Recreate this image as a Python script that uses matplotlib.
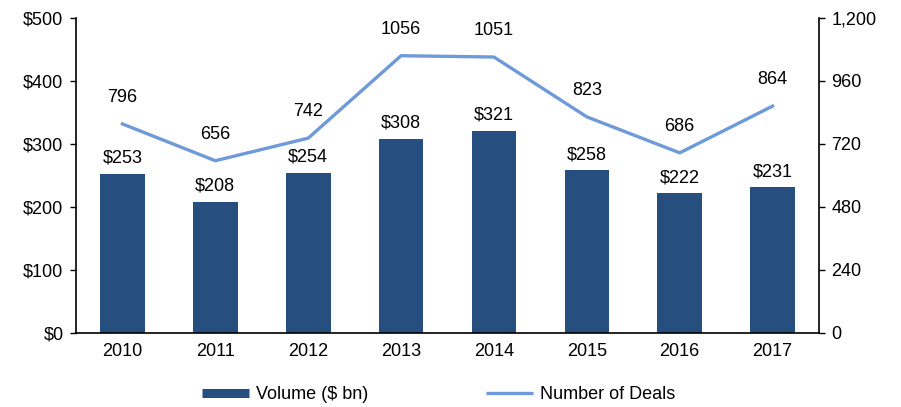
import matplotlib
matplotlib.use("Agg")
from matplotlib import pyplot as plt
from matplotlib.lines import Line2D
from matplotlib.ticker import FuncFormatter

plt.rcParams['font.family'] = ['Liberation Sans', 'DejaVu Sans']

years = ['2010', '2011', '2012', '2013', '2014', '2015', '2016', '2017']
volume = [253, 208, 254, 308, 321, 258, 222, 231]
deals = [796, 656, 742, 1056, 1051, 823, 686, 864]

bar_color = '#264F80'
line_color = '#6F9AD9'
fs = 13

fig = plt.figure(figsize=(9.01, 4.07), dpi=100)
ax = fig.add_axes([0.0844, 0.182, 0.8246, 0.774])
x = range(len(years))

ax.bar(x, volume, width=0.48, color=bar_color, zorder=2)
ax.set_xlim(-0.5, 7.5)
ax.set_ylim(0, 500)
ax.set_yticks([0, 100, 200, 300, 400, 500])
ax.yaxis.set_major_formatter(FuncFormatter(lambda v, p: '${:.0f}'.format(v)))
ax.set_xticks(list(x))
ax.set_xticklabels(years)
ax.tick_params(axis='x', length=0, pad=7, labelsize=fs)
ax.tick_params(axis='y', direction='out', length=4, width=1, labelsize=fs, pad=5)
ax.spines['top'].set_visible(False)
ax.spines['right'].set_visible(False)
for s in ['left', 'bottom']:
    ax.spines[s].set_linewidth(1.2)

for i, v in enumerate(volume):
    ax.annotate('${}'.format(v), (i, v), xytext=(0, 5), textcoords='offset points',
                ha='center', va='bottom', fontsize=fs)

ax2 = ax.twinx()
ax2.plot(x, deals, color=line_color, linewidth=2.4, zorder=3)
ax2.set_ylim(0, 1200)
ax2.set_yticks([0, 240, 480, 720, 960, 1200])
ax2.yaxis.set_major_formatter(FuncFormatter(lambda v, p: '{:,.0f}'.format(v)))
ax2.tick_params(axis='y', direction='out', length=4, width=1, labelsize=fs, pad=5)
ax2.spines['top'].set_visible(False)
ax2.spines['left'].set_visible(False)
ax2.spines['bottom'].set_visible(False)
ax2.spines['right'].set_linewidth(1.2)

for i, v in enumerate(deals):
    ax2.annotate('{}'.format(v), (i, v), xytext=(0, 13), textcoords='offset points',
                 ha='center', va='bottom', fontsize=fs)

handles = [Line2D([0], [0], color=bar_color, linewidth=6.5, solid_capstyle='butt'),
           Line2D([0], [0], color=line_color, linewidth=2.4, solid_capstyle='butt')]
fig.legend(handles, ['Volume ($ bn)', 'Number of Deals'], loc='lower center',
           bbox_to_anchor=(0.487, -0.03), ncol=2, frameon=False, fontsize=fs,
           handlelength=2.6, handletextpad=0.4, columnspacing=6.5)

fig.savefig('out.png', dpi=100)
